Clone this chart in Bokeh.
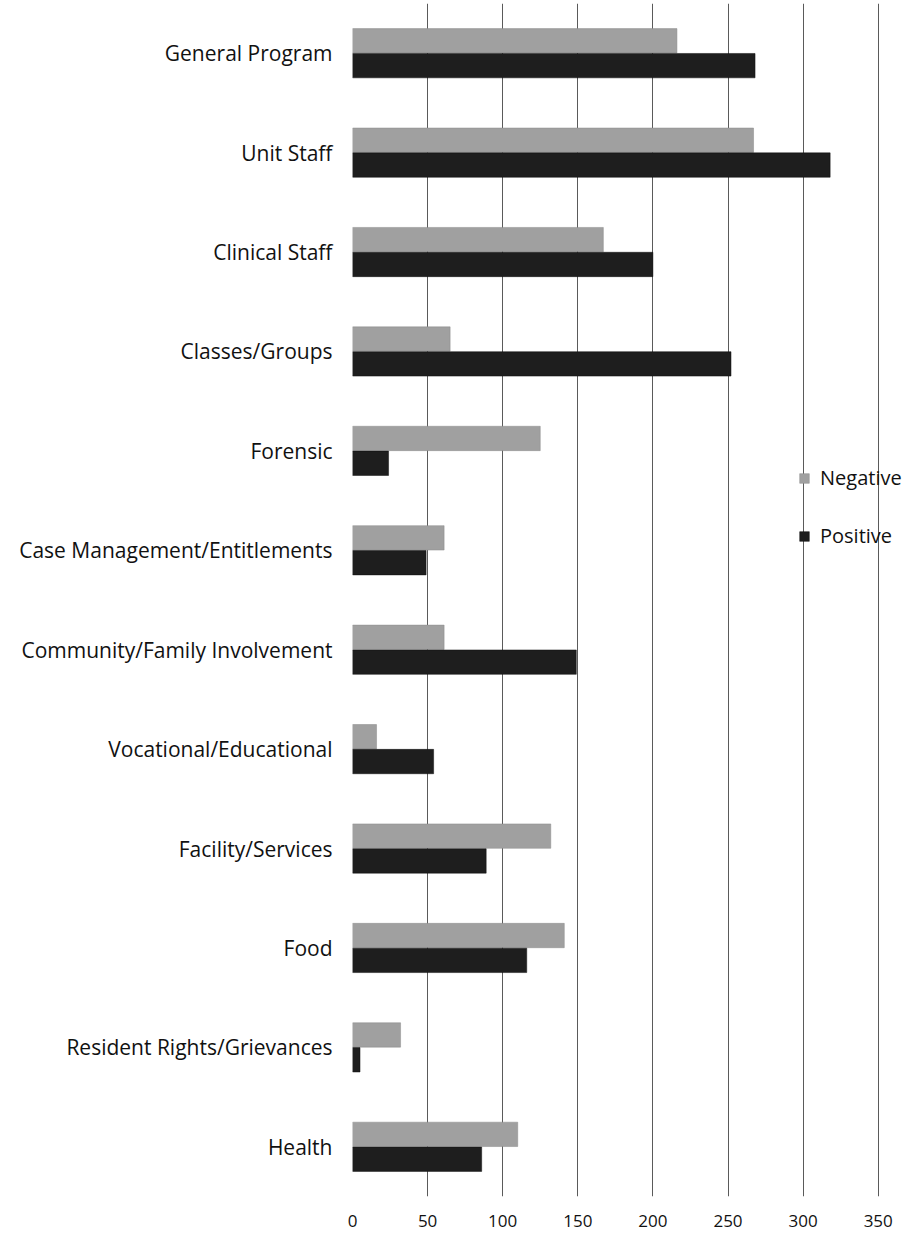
from bokeh.plotting import figure
from bokeh.models import FactorRange, Legend, LegendItem
from bokeh.transform import dodge
from bokeh.embed import file_html
from bokeh.resources import INLINE

categories = ["General Program", "Unit Staff", "Clinical Staff", "Classes/Groups",
              "Forensic", "Case Management/Entitlements", "Community/Family Involvement",
              "Vocational/Educational", "Facility/Services", "Food",
              "Resident Rights/Grievances", "Health"]
negative = [216, 267, 167, 65, 125, 61, 61, 16, 132, 141, 32, 110]
positive = [268, 318, 200, 252, 24, 49, 149, 54, 89, 116, 5, 86]
x_ticks = [0, 50, 100, 150, 200, 250, 300, 350]

FONT = "Open Sans"

p = figure(width=907, height=1239, output_backend="svg", toolbar_location=None,
           y_range=FactorRange(factors=list(reversed(categories))),
           x_range=(0, 369.5),
           min_border_left=352, min_border_right=0, min_border_top=3, min_border_bottom=43)

src = dict(cat=categories, neg=negative, pos=positive)
rn = p.hbar(y=dodge("cat", 0.125, range=p.y_range), right="neg", left=0, height=0.245,
            source=src, fill_color="#a0a0a0", line_color="#8a8a8a", line_width=0.5)
rp = p.hbar(y=dodge("cat", -0.125, range=p.y_range), right="pos", left=0, height=0.245,
            source=src, fill_color="#1e1e1e", line_color="#111111", line_width=0.5)

p.xaxis.ticker = x_ticks
p.xgrid.ticker = x_ticks
p.xgrid.grid_line_color = "#5a5a5a"
p.xgrid.grid_line_width = 1
p.ygrid.grid_line_color = None
p.outline_line_color = None

for ax in (p.xaxis, p.yaxis):
    ax.axis_line_color = None
    ax.major_tick_line_color = None
    ax.minor_tick_line_color = None
    ax.major_tick_out = 0
    ax.major_tick_in = 0
    ax.major_label_text_font = FONT
    ax.major_label_text_color = "#111111"

p.xaxis.major_label_text_font_size = "17px"
p.xaxis.major_label_standoff = 18
p.yaxis.major_label_text_font_size = "21px"
p.yaxis.major_label_standoff = 20

legend = Legend(items=[LegendItem(label="Negative", renderers=[rn]),
                       LegendItem(label="Positive", renderers=[rp])],
                location=(446, 647), orientation="vertical",
                label_text_font=FONT, label_text_font_size="20px",
                label_text_color="#111111",
                glyph_width=12, glyph_height=12, spacing=31,
                background_fill_alpha=0, border_line_color=None,
                padding=4, margin=0, label_standoff=10)
p.add_layout(legend, "center")

open("out.html", "w").write(file_html(p, INLINE))
